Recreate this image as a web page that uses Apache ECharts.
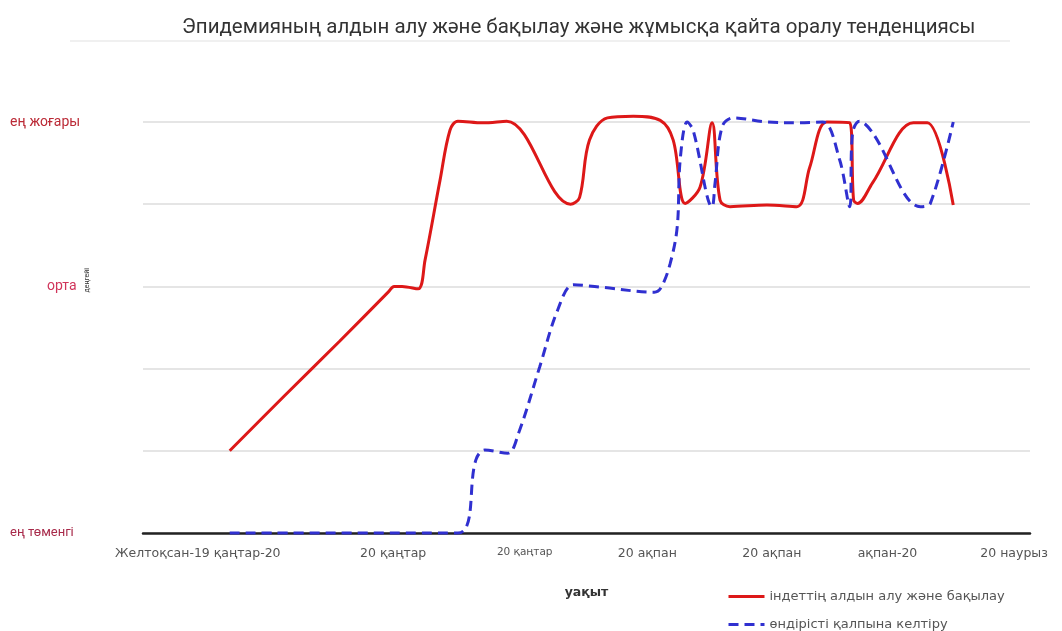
<!DOCTYPE html>
<html>
<head>
<meta charset="utf-8">
<script src="https://cdn.jsdelivr.net/npm/echarts@6/dist/echarts.min.js"></script>
<style>
  html, body { margin: 0; padding: 0; background: #fff; }
  #main { width: 1062px; height: 631px; }
</style>
</head>
<body>
<div id="main"></div>
<script>
// time axis labels (positions along the time scale)
const timeTicks = [5.5, 25.1, 38.3, 50.6, 63.1, 74.7, 87.4];
const timeLabels = ['Желтоқсан-19 қаңтар-20', '20 қаңтар', '20 қаңтар', '20 ақпан', '20 ақпан', 'ақпан-20', '20 наурыз'];

// level labels
const levelNames = { 0: 'ең төменгі', 3: 'орта', 5: 'ең жоғары' };

// epidemic prevention and control
const controlX = [8.7, 14.2, 19.7, 24.6, 25.2, 26.0, 27.6, 28.3, 29.8, 30.8, 31.6, 34.1, 36.5, 42.9, 43.8, 44.8, 46.6, 49.2, 51.9, 53.2, 54.4, 55.9, 57.1, 57.9, 58.9, 62.6, 65.6, 66.9, 68.6, 70.9, 71.3, 71.7, 73.2, 77.3, 78.7, 81.3];
const controlY = [1.0, 1.67, 2.33, 2.93, 3.0, 3.0, 2.97, 3.32, 4.29, 4.9, 5.01, 4.99, 5.01, 4.0, 4.08, 4.78, 5.05, 5.07, 5.02, 4.78, 4.01, 4.21, 4.99, 4.05, 3.97, 3.99, 3.97, 4.45, 5.0, 4.99, 4.05, 4.01, 4.26, 4.99, 4.99, 3.99];

// restoring production
const recoveryX = [8.7, 31.6, 33.4, 34.3, 36.6, 37.7, 39.8, 41.6, 43.2, 46.0, 51.3, 52.0, 52.9, 53.6, 53.9, 54.6, 55.2, 57.1, 57.4, 58.1, 59.2, 62.6, 65.9, 68.2, 69.9, 70.9, 71.2, 71.9, 73.2, 78.0, 79.0, 81.3];
const recoveryY = [0, 0, 0.89, 1.01, 0.97, 1.22, 2.02, 2.71, 3.02, 2.99, 2.93, 2.99, 3.28, 3.72, 4.54, 5.0, 4.9, 3.97, 4.26, 4.94, 5.05, 5.0, 4.99, 5.0, 4.54, 3.97, 4.87, 5.01, 4.87, 3.97, 4.01, 5.0];

const controlData = controlX.map((x, i) => [x, controlY[i]]);
const recoveryData = recoveryX.map((x, i) => [x, recoveryY[i]]);

const font = 'DejaVu Sans';

const chart = echarts.init(document.getElementById('main'));
chart.setOption({
    animation: false,
    title: {
        text: 'Эпидемияның алдын алу және бақылау және жұмысқа қайта оралу тенденциясы',
        left: 177,
        top: 12,
        textStyle: { fontFamily: 'Roboto', fontSize: 20.5, fontWeight: 'normal', color: '#333' }
    },
    grid: { left: 143, right: 32, top: 122, bottom: 98 },
    legend: {
        orient: 'vertical',
        left: 727,
        top: 590,
        height: 60,
        padding: 0,
        itemWidth: 36,
        itemHeight: 14,
        itemGap: 15,
        itemStyle: { opacity: 0 },
        lineStyle: { width: 3 },
        textStyle: { fontFamily: font, fontSize: 13, color: '#555' },
        data: ['індеттің алдын алу және бақылау', 'өндірісті қалпына келтіру']
    },
    xAxis: {
        type: 'value',
        min: 0,
        max: 89,
        name: 'уақыт',
        nameLocation: 'middle',
        nameGap: 53,
        nameTextStyle: { fontFamily: font, fontSize: 12.5, fontWeight: 'bold', color: '#333' },
        splitLine: { show: false },
        axisTick: { show: false },
        axisLine: { lineStyle: { color: '#222', width: 2.5 } },
        axisLabel: {
            customValues: timeTicks,
            margin: 14,
            fontFamily: font,
            fontSize: 12.5,
            color: '#555',
            formatter: function (val) {
                const i = timeTicks.findIndex(t => Math.abs(t - val) < 0.01);
                if (i < 0) return '';
                return i === 2 ? '{s|' + timeLabels[i] + '}' : timeLabels[i];
            },
            rich: { s: { fontSize: 10.5, fontFamily: font, color: '#555' } }
        }
    },
    yAxis: {
        type: 'value',
        min: 0,
        max: 5,
        interval: 1,
        axisLine: { show: false },
        axisTick: { show: false },
        splitLine: { lineStyle: { color: '#dcdcdc', width: 1.5 } },
        axisLabel: {
            align: 'left',
            margin: 133,
            fontFamily: 'Roboto',
            fontSize: 14,
            color: '#bb2a36',
            formatter: function (val) {
                const t = levelNames[val];
                if (!t) return '';
                if (val === 3) return '{m|' + t + '}';
                if (val === 0) return '{b|' + t + '}';
                return t;
            },
            rich: {
                m: { fontSize: 14, fontFamily: 'Roboto', color: '#d0345a', padding: [0, 0, 0, 37] },
                b: { fontSize: 13, fontFamily: 'Roboto', color: '#a82a4a' }
            }
        }
    },
    graphic: [
        {
            type: 'text',
            left: 84,
            top: 268,
            rotation: Math.PI / 2,
            style: { text: 'деңгейі', fontSize: 7, fill: '#333', fontFamily: 'Roboto' }
        },
        {
            type: 'rect',
            left: 70,
            top: 40,
            shape: { width: 940, height: 2 },
            style: { fill: '#f0f0f0' }
        }
    ],
    series: [
        {
            name: 'індеттің алдын алу және бақылау',
            type: 'line',
            smooth: 0.35,
            symbol: 'none',
            clip: false,
            data: controlData,
            lineStyle: { color: '#dd1818', width: 3 },
            itemStyle: { color: '#dd1818' }
        },
        {
            name: 'өндірісті қалпына келтіру',
            type: 'line',
            smooth: 0.35,
            symbol: 'none',
            clip: false,
            data: recoveryData,
            lineStyle: { color: '#3030d0', width: 3, type: [10, 6] },
            itemStyle: { color: '#3030d0' }
        }
    ]
});
</script>
</body>
</html>
